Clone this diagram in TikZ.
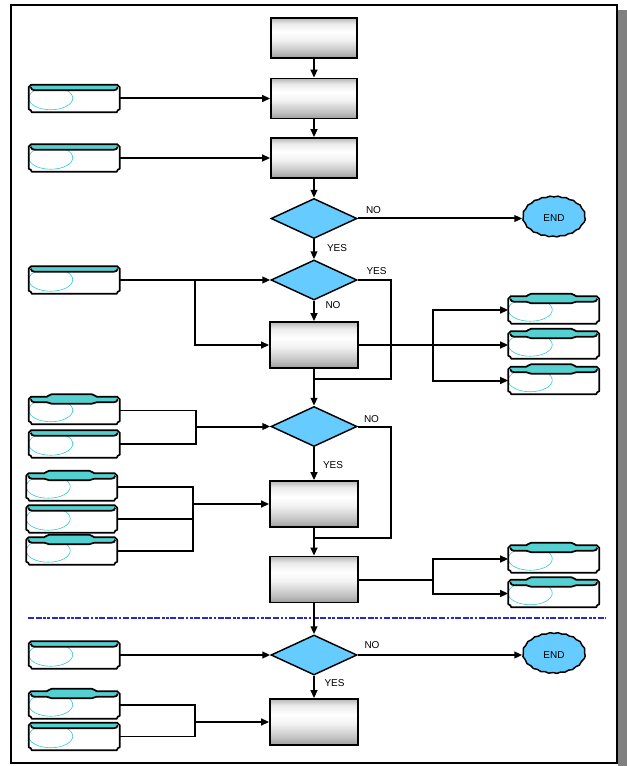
\documentclass[tikz,border=0pt]{standalone}
\usepackage{fontspec}
\setmainfont{Liberation Sans}
\usetikzlibrary{shapes.geometric,arrows.meta,decorations.pathmorphing}

\definecolor{decision}{HTML}{66CCFF}
\definecolor{tapeband}{HTML}{55D0D0}
\definecolor{tapecurl}{HTML}{33CCCC}
\definecolor{divider}{RGB}{40,40,210}

% grey metallic fill of the process boxes (path maps to 25bp..75bp)
\pgfdeclareverticalshading{procshade}{100bp}{color(0bp)=(black!38); color(25bp)=(black!38);
  color(33bp)=(black!24); color(48bp)=(black!5); color(58bp)=(white); color(68bp)=(black!8);
  color(75bp)=(black!28); color(100bp)=(black!28)}

\tikzset{
  proc/.style={draw, line width=1.2pt, shade, shading=procshade,
    minimum width=64.5pt, minimum height=30pt, inner sep=0pt},
  proctall/.style={proc, minimum width=66pt, minimum height=34.5pt},
  decide/.style={diamond, draw, line width=1.1pt, fill=decision,
    minimum width=64.5pt, minimum height=30pt, inner sep=0pt},
  endnode/.style={ellipse, draw, line width=1.1pt, fill=decision,
    minimum width=46.5pt, minimum height=30pt, inner sep=0pt,
    decorate, decoration={snake, amplitude=0.35pt, segment length=6pt},
    font=\fontsize{7.5}{9}\selectfont},
  tape/.style={minimum width=68.25pt, minimum height=21pt, inner sep=0pt},
  flow/.style={line width=1.5pt},
  flowarr/.style={flow, -{Triangle[length=6pt,width=5pt]}},
  feed/.style={line width=1.1pt},
  lbl/.style={font=\fontsize{7.5}{9}\selectfont, inner sep=0pt},
  tapeline/.style={line width=1.3pt, line join=round},
  % tape symbol with a straight top edge
  tapeflat/.pic={
    \fill[white] (0,3) -- (2.5,0.5) -- (88.5,0.5) -- (91,3) -- (91,25) -- (89,26) -- (88,28)
      -- (3,28) -- (2,26) -- (0,25) -- cycle;
    \begin{scope}
      \clip (0,3) -- (2.5,0.5) -- (88.5,0.5) -- (91,3) -- (91,25) -- (89,26) -- (88,28)
        -- (3,28) -- (2,26) -- (0,25) -- cycle;
      \draw[tapecurl, line width=0.45pt] (22,14) ellipse [x radius=22, y radius=11.5];
    \end{scope}
    \fill[tapeband] (1.5,1) -- (89.5,1) -- (89,3) .. controls (88,5.5) .. (85,6) -- (6,6)
      .. controls (3,5.5) .. (2,3) -- cycle;
    \draw[tapeline] (2,3) .. controls (3,5.5) .. (6,6) -- (85,6) .. controls (88,5.5) .. (89,3);
    \draw[tapeline] (0,3) -- (2.5,0.5) -- (88.5,0.5) -- (91,3) -- (91,25) -- (89,26) -- (88,28)
      -- (3,28) -- (2,26) -- (0,25) -- cycle;
  },
  % tape symbol with a raised middle on the top edge
  tapewavy/.pic={
    \fill[white] (0,3) -- (2.5,0.5) -- (18,0.5) .. controls (20,0.5) and (20,-2) .. (23,-2)
      -- (63,-2) .. controls (66,-2) and (66,0.5) .. (68,0.5) -- (88.5,0.5) -- (91,3) -- (91,25)
      -- (89,26) -- (88,28) -- (3,28) -- (2,26) -- (0,25) -- cycle;
    \begin{scope}
      \clip (0,3) -- (2.5,0.5) -- (88.5,0.5) -- (91,3) -- (91,25) -- (89,26) -- (88,28)
        -- (3,28) -- (2,26) -- (0,25) -- cycle;
      \draw[tapecurl, line width=0.45pt] (22,14) ellipse [x radius=22, y radius=11.5];
    \end{scope}
    \fill[tapeband] (1.5,1) -- (18,0.5) .. controls (20,0.5) and (20,-2) .. (23,-2)
      -- (63,-2) .. controls (66,-2) and (66,0.5) .. (68,0.5) -- (89.5,1) -- (89,3)
      .. controls (88,5.5) .. (85,6) -- (68,6) .. controls (66,6) and (66,7.5) .. (63,7.5)
      -- (23,7.5) .. controls (20,7.5) and (20,6) .. (18,6) -- (6,6) .. controls (3,5.5) .. (2,3) -- cycle;
    \draw[tapeline] (2,3) .. controls (3,5.5) .. (6,6) -- (18,6) .. controls (20,6) and (20,7.5) .. (23,7.5)
      -- (63,7.5) .. controls (66,7.5) and (66,6) .. (68,6) -- (85,6) .. controls (88,5.5) .. (89,3);
    \draw[tapeline] (0,3) -- (2.5,0.5) -- (18,0.5) .. controls (20,0.5) and (20,-2) .. (23,-2)
      -- (63,-2) .. controls (66,-2) and (66,0.5) .. (68,0.5) -- (88.5,0.5) -- (91,3) -- (91,25)
      -- (89,26) -- (88,28) -- (3,28) -- (2,26) -- (0,25) -- cycle;
  },
}

\begin{document}
\begin{tikzpicture}[x=0.75pt, y=-0.75pt]
  \useasboundingbox (0,0) rectangle (627,766);

  % page frame with its shadow
  \fill[gray] (618,10) rectangle (627,766);
  \draw[line width=1.5pt] (11,5) rectangle (616.5,763);

  % divider
  \draw[divider, line width=1.5pt,
    dash pattern=on 4.5pt off 1.2pt on 4.5pt off 1.2pt on 2pt off 1.2pt on 2pt off 1.2pt]
    (28,617.5) -- (606,617.5);

  % process boxes
  \node[proc] (B1) at (314,38) {};
  \node[proc] (B2) at (314,98.5) {};
  \node[proc] (B3) at (314,158) {};
  \node[proctall] (B4) at (314,345) {};
  \node[proctall] (B5) at (314,504) {};
  \node[proctall] (B6) at (314,579.5) {};
  \node[proctall] (B7) at (314,722) {};

  % decisions
  \node[decide] (d1) at (314,218.5) {};
  \node[decide] (d2) at (314,280) {};
  \node[decide] (d3) at (314,426.5) {};
  \node[decide] (d4) at (314,655) {};

  % terminators
  \node[endnode] (E1) at (554,218.5) {END};
  \node[endnode] (E2) at (554,655) {END};

  % tape symbols (placeholders, art drawn on top afterwards)
  \node[tape] (L1) at (74.5,98.5) {};
  \node[tape] (L2) at (74.5,158) {};
  \node[tape] (L3) at (74.5,280) {};
  \node[tape] (L4) at (74.5,410.5) {};
  \node[tape] (L5) at (74.5,444) {};
  \node[tape] (L6) at (72,487) {};
  \node[tape] (L7) at (72,519) {};
  \node[tape] (L8) at (72,551) {};
  \node[tape] (L9) at (74.5,655) {};
  \node[tape] (L10) at (74.5,705) {};
  \node[tape] (L11) at (74.5,736.5) {};
  \node[tape] (R1) at (554,310) {};
  \node[tape] (R2) at (554,345) {};
  \node[tape] (R3) at (554,380.5) {};
  \node[tape] (R4) at (554,559) {};
  \node[tape] (R5) at (554,593.5) {};

  % junction points
  \coordinate (j1) at (195,280);
  \coordinate (f1) at (433,345);
  \coordinate (f2) at (196,426.5);
  \coordinate (f3) at (193,504);
  \coordinate (f4) at (195,722);
  \coordinate (f5) at (433,579.5);
  \coordinate (c1) at (391,379);
  \coordinate (c2) at (314,379);
  \coordinate (c3) at (391,538);
  \coordinate (c4) at (314,538);

  % main flow
  \draw[flowarr] (B1) -- (B2);
  \draw[flowarr] (B2) -- (B3);
  \draw[flowarr] (B3) -- (d1);
  \draw[flowarr] (d1) -- (d2);
  \draw[flowarr] (d1) -- (E1);
  \draw[flowarr] (d2) -- (B4);
  \draw[flow] (d2.east) -| (c1) -- (c2);
  \draw[flowarr] (B4) -- (d3);
  \draw[flowarr] (d3) -- (B5);
  \draw[flow] (d3.east) -| (c3) -- (c4);
  \draw[flowarr] (B5) -- (B6);
  \draw[flowarr] (B6) -- (d4);
  \draw[flowarr] (d4) -- (B7);
  \draw[flowarr] (d4) -- (E2);

  % inputs
  \draw[flowarr] (L1.east) -- (L1.east -| B2.west);
  \draw[flowarr] (L2.east) -- (L2.east -| B3.west);
  \draw[flow] (L3.east) -- (j1);
  \draw[flowarr] (j1) -- (d2.west);
  \draw[flowarr] (j1) |- (B4.west);
  \draw[feed] (L4.east) -| (f2) |- (L5.east);
  \draw[flowarr] (f2) -- (d3.west);
  \draw[feed] (L6.east) -| (f3) |- (L8.east);
  \draw[feed] (L7.east) -- (L7.east -| f3);
  \draw[flowarr] (f3) -- (B5.west);
  \draw[flowarr] (L9.east) -- (d4.west);
  \draw[feed] (L10.east) -| (f4) |- (L11.east);
  \draw[flowarr] (f4) -- (B7.west);

  % outputs
  \draw[flow] (B4.east) -- (f1);
  \draw[flowarr] (f1) |- (R1.west);
  \draw[flowarr] (f1) -- (R2.west);
  \draw[flowarr] (f1) |- (R3.west);
  \draw[flow] (B6.east) -- (f5);
  \draw[flowarr] (f5) |- (R4.west);
  \draw[flowarr] (f5) |- (R5.west);

  % tape art
  \foreach \t in {L1,L2,L3,L5,L7,L9,L11}
    \pic at (\t.north west) {tapeflat};
  \foreach \t in {L4,L6,L8,L10,R1,R2,R3,R4,R5}
    \pic at (\t.north west) {tapewavy};

  % branch labels
  \node[lbl] (n1) at (373.5,210) {NO};
  \node[lbl] (y1) at (337,248) {YES};
  \node[lbl] (y2) at (376.5,271.5) {YES};
  \node[lbl] (n2) at (333,305.5) {NO};
  \node[lbl] (n3) at (371.5,419.5) {NO};
  \node[lbl] (y3) at (333,465.5) {YES};
  \node[lbl] (n4) at (372,645.5) {NO};
  \node[lbl] (y4) at (334.5,683.5) {YES};
\end{tikzpicture}
\end{document}
